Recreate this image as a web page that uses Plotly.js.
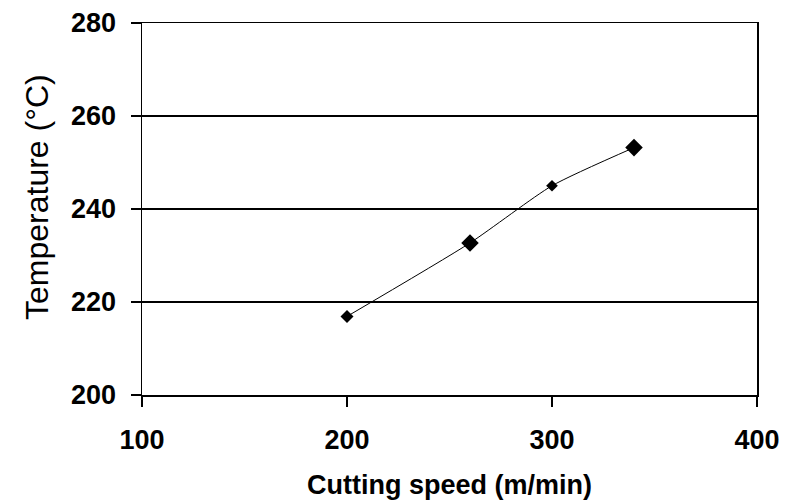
<!DOCTYPE html>
<html>
<head>
<meta charset="utf-8">
<script src="https://cdn.plot.ly/plotly-3.0.1.min.js"></script>
<style>html,body{margin:0;padding:0;background:#fff;}#chart{width:787px;height:501px;}</style>
</head>
<body>
<div id="chart"></div>
<script>
// Data
const cuttingSpeed = [200, 260, 300, 340];          // m/min
const temperature = [216.9, 232.7, 245.0, 253.2];   // °C
const xTicks = [100, 200, 300, 400];
const yTicks = [200, 220, 240, 260, 280];

const trace = {
  x: cuttingSpeed,
  y: temperature,
  type: 'scatter',
  mode: 'lines+markers',
  line: {color: '#000', width: 1, shape: 'spline', smoothing: 0.6},
  marker: {symbol: 'diamond', color: '#000', opacity: 1, size: [10, 13.5, 9, 13.5], line: {width: 0, color: '#000'}},
  showlegend: false,
  hoverinfo: 'skip'
};

const fam = 'Liberation Sans, Arial, sans-serif';
const tickFont = {family: fam, size: 27, color: '#000', weight: 'bold'};

const layout = {
  width: 787, height: 501,
  margin: {l: 142, r: 30, t: 23, b: 106},
  paper_bgcolor: '#fff', plot_bgcolor: '#fff',
  xaxis: {
    range: [100, 400],
    tickvals: xTicks,
    ticktext: xTicks.map(String),
    showgrid: false, zeroline: false,
    showline: true, linecolor: '#000', linewidth: 1.5, mirror: true,
    ticks: 'outside', ticklen: 10, tickwidth: 1.5, tickcolor: '#000',
    ticklabelstandoff: 10,
    tickfont: tickFont,
    title: {text: 'Cutting speed (m/min)', standoff: 21,
            font: {family: fam, size: 27, color: '#000', weight: 'bold'}}
  },
  yaxis: {
    range: [200, 280],
    tickvals: yTicks,
    ticktext: yTicks.map(String),
    showgrid: true, gridcolor: '#000', gridwidth: 1.5, zeroline: false,
    showline: true, linecolor: '#000', linewidth: 1.5, mirror: true,
    ticks: 'outside', ticklen: 10, tickwidth: 1.5, tickcolor: '#000',
    ticklabelstandoff: 9,
    tickfont: tickFont
  },
  annotations: [{
    text: 'Temperature (°C)',
    xref: 'paper', yref: 'paper',
    x: -142/615, xanchor: 'left', xshift: 17,
    y: (395 - 197) / 372, yanchor: 'middle',
    textangle: -90, showarrow: false,
    font: {family: fam, size: 32, color: '#000'}
  }]
};

Plotly.newPlot('chart', [trace], layout, {staticPlot: true, displayModeBar: false});
</script>
</body>
</html>
